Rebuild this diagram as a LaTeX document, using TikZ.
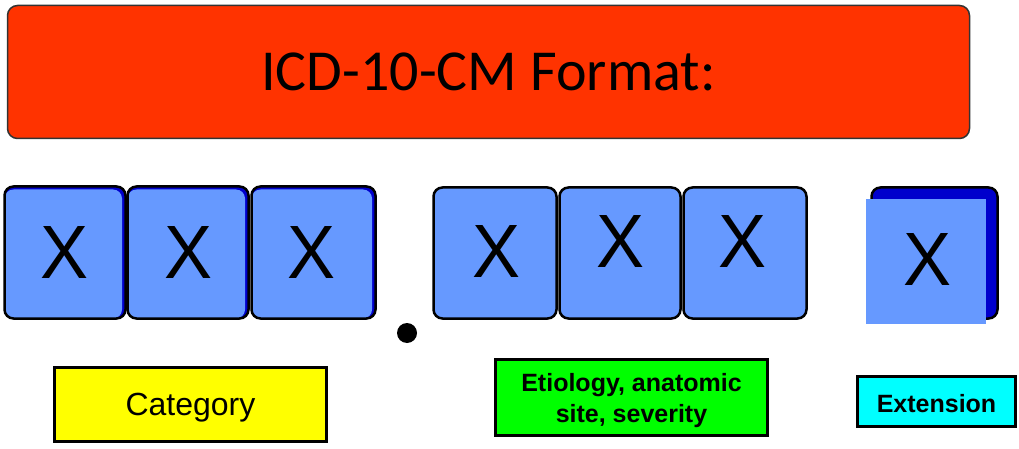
\documentclass[tikz,border=0pt]{standalone}
\usepackage{fontspec}
\setmainfont{Liberation Sans}
\newfontfamily\titlefont{Carlito}
\definecolor{titlered}{RGB}{255,51,0}
\definecolor{lightblue}{RGB}{102,153,255}
\definecolor{darkblue}{RGB}{0,0,204}
\definecolor{labelyellow}{RGB}{255,255,0}
\definecolor{labelgreen}{RGB}{0,255,0}
\definecolor{labelcyan}{RGB}{0,255,255}
\begin{document}
\begin{tikzpicture}[x=1pt,y=-1pt,
  cell/.style={draw=black, line width=2.5pt, rounded corners=9pt, fill=lightblue,
    minimum width=#1, minimum height=132pt, inner sep=0pt},
  shadedcell/.style={cell=#1, fill=darkblue,
    path picture={\fill[lightblue] ([yshift=-3pt]path picture bounding box.north west)
      rectangle ([xshift=-3.5pt]path picture bounding box.south east);}},
  xmark/.style={font=\fontsize{72}{72}\selectfont, inner sep=0pt, yscale=1.05},
  tag/.style={draw=black, line width=3pt, inner sep=0pt, align=center},
]
\useasboundingbox (0,0) rectangle (1019,449);
% title
\node[draw=black!80, line width=1.5pt, fill=titlered, rounded corners=10pt,
  minimum width=962pt, minimum height=133pt, inner sep=0pt,
  font=\titlefont\fontsize{58}{58}\selectfont] (title) at (488.5,72) {ICD-10-CM Format:};
% first group
\node[shadedcell=121pt] (c1) at (65,252.5) {};
\node[shadedcell=121pt] (c2) at (188,252.5) {};
\node[shadedcell=124pt] (c3) at (313.5,252.5) {};
\node[xmark] (x1) at (65,252) {X};
\node[xmark] (x2) at (189,252) {X};
\node[xmark] (x3) at (312,252) {X};
% dot
\fill (407,333) circle (10pt);
\node[inner sep=0pt, minimum size=0pt] (dot) at (407,333) {};
% second group
\node[cell=123pt, minimum height=131pt] (c4) at (495,253) {};
\node[cell=121pt, minimum height=131pt] (c5) at (620,253) {};
\node[cell=123pt, minimum height=131pt] (c6) at (745,253) {};
\node[xmark] (x4) at (497,251.5) {X};
\node[xmark] (x5) at (621,241.5) {X};
\node[xmark] (x6) at (743,241.5) {X};
% extension
\node[draw=black, line width=2.5pt, rounded corners=9pt, fill=darkblue,
  minimum width=126pt, minimum height=131pt, inner sep=0pt] (c7) at (934.5,253) {};
\node[fill=lightblue, minimum width=120pt, minimum height=125pt, inner sep=0pt] (face) at (926,261.5) {};
\node[xmark] (x7) at (927,259.5) {X};
% labels
\node[tag, fill=labelyellow, minimum width=272pt, minimum height=74pt,
  text height=21pt, text depth=0pt,
  font=\fontsize{32}{32}\selectfont] (cat) at (190.5,404.5) {Category};
\node[tag, fill=labelgreen, minimum width=272pt, minimum height=76pt,
  text depth=0pt,
  font=\bfseries\fontsize{25}{31}\selectfont] (etio) at (631.5,397.5) {Etiology, anatomic\\site, severity};
\node[tag, fill=labelcyan, minimum width=158pt, minimum height=50pt,
  text height=21pt, text depth=0pt,
  font=\bfseries\fontsize{25}{25}\selectfont] (ext) at (936.5,401.5) {Extension};
\end{tikzpicture}
\end{document}
